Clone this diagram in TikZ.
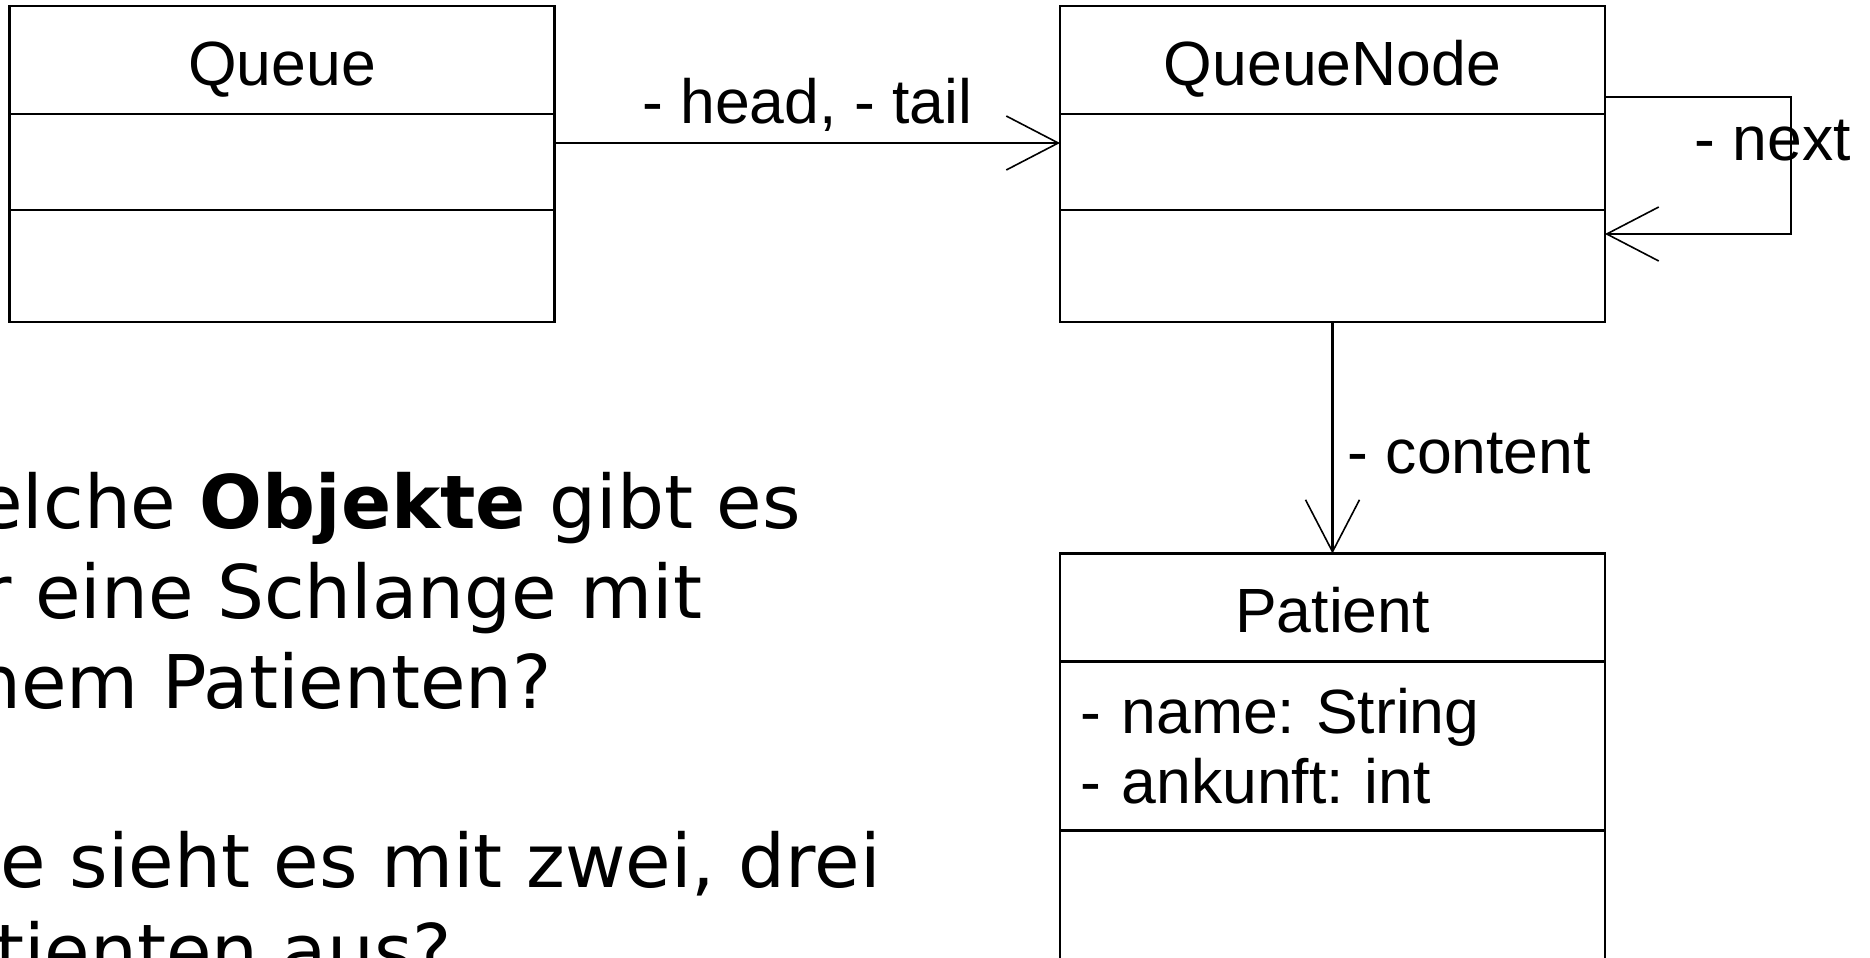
\documentclass[tikz,border=0pt]{standalone}
\usepackage{fontspec}
\setmainfont{Liberation Sans}
\newfontfamily\fragefont{DejaVu Sans}
\usetikzlibrary{positioning,arrows.meta}
\frenchspacing

\tikzset{
  fach/.style={draw, line width=1.3pt, minimum width=272.5pt, outer sep=0pt, inner sep=0pt,
    font=\fontsize{31.25pt}{35pt}\selectfont},
  kopf/.style={fach, minimum height=54pt, text height=25pt, text depth=0pt},
  attr/.style={fach, minimum height=48pt},
  ops/.style={fach, minimum height=56pt},
  assoc/.style={line width=1.2pt, -{Straight Barb[length=26pt, width=27pt, line width=0.8pt]}},
  lbl/.style={font=\fontsize{31.25pt}{35pt}\selectfont, inner sep=0pt},
  frage/.style={font=\fragefont\fontsize{37pt}{45pt}\selectfont, inner sep=0pt, anchor=base west}
}

\begin{document}
\begin{tikzpicture}[x=0.5pt, y=-0.5pt]
    % Rahmen
    \useasboundingbox (0,0) rectangle (1870,958);
    \clip (0,0) rectangle (1870,958);

    % Klasse Queue
    \node[kopf] (queue) at (282,60) {Queue};
    \node[attr, below=0pt of queue] (queueattr) {};
    \node[ops, below=0pt of queueattr] (queueops) {};

    % Klasse QueueNode
    \node[kopf] (qnode) at (1332.5,60) {QueueNode};
    \node[attr, below=0pt of qnode] (qnodeattr) {};
    \node[ops, below=0pt of qnodeattr] (qnodeops) {};

    % Klasse Patient
    \node[kopf] (patient) at (1332.5,607.5) {Patient};
    \node[fach, minimum height=84.5pt, inner xsep=10pt, text width=252.5pt, align=left,
      below=0pt of patient] (patientattr) {- name: String\\- ankunft: int};
    \node[fach, minimum height=100pt, below=0pt of patientattr] (patientops) {};

    % Assoziationen
    \draw[assoc] ([yshift=-14.5pt]queueattr.north east) -- ([yshift=-14.5pt]qnodeattr.north west)
      node[lbl, midway, anchor=base, yshift=10pt] (headlbl) {- head, - tail};

    \coordinate (nextin) at ([yshift=-12pt]qnodeops.north east);
    \draw[assoc] ([yshift=8.5pt]qnode.south east) -- ++(186,0) coordinate (loopa)
      -- (loopa |- nextin) node[lbl, midway, anchor=base, xshift=-9pt, yshift=2.75pt] (nextlbl) {- next}
      -- (nextin);

    \draw[assoc] (qnodeops.south) -- (patient.north)
      node[lbl, midway, anchor=base west, xshift=7pt, yshift=-17.75pt] (contentlbl) {- content};

    % Fragen
    \node[frage] (frage1) at (-92,528) {Welche \textbf{Objekte} gibt es};
    \node[frage] (frage2) at (-92,618) {für eine Schlange mit};
    \node[frage] (frage3) at (-92,708) {einem Patienten?};
    \node[frage] (frage4) at (-92,887) {Wie sieht es mit zwei, drei};
    \node[frage] (frage5) at (-92,977) {Patienten aus?};

\end{tikzpicture}
\end{document}
